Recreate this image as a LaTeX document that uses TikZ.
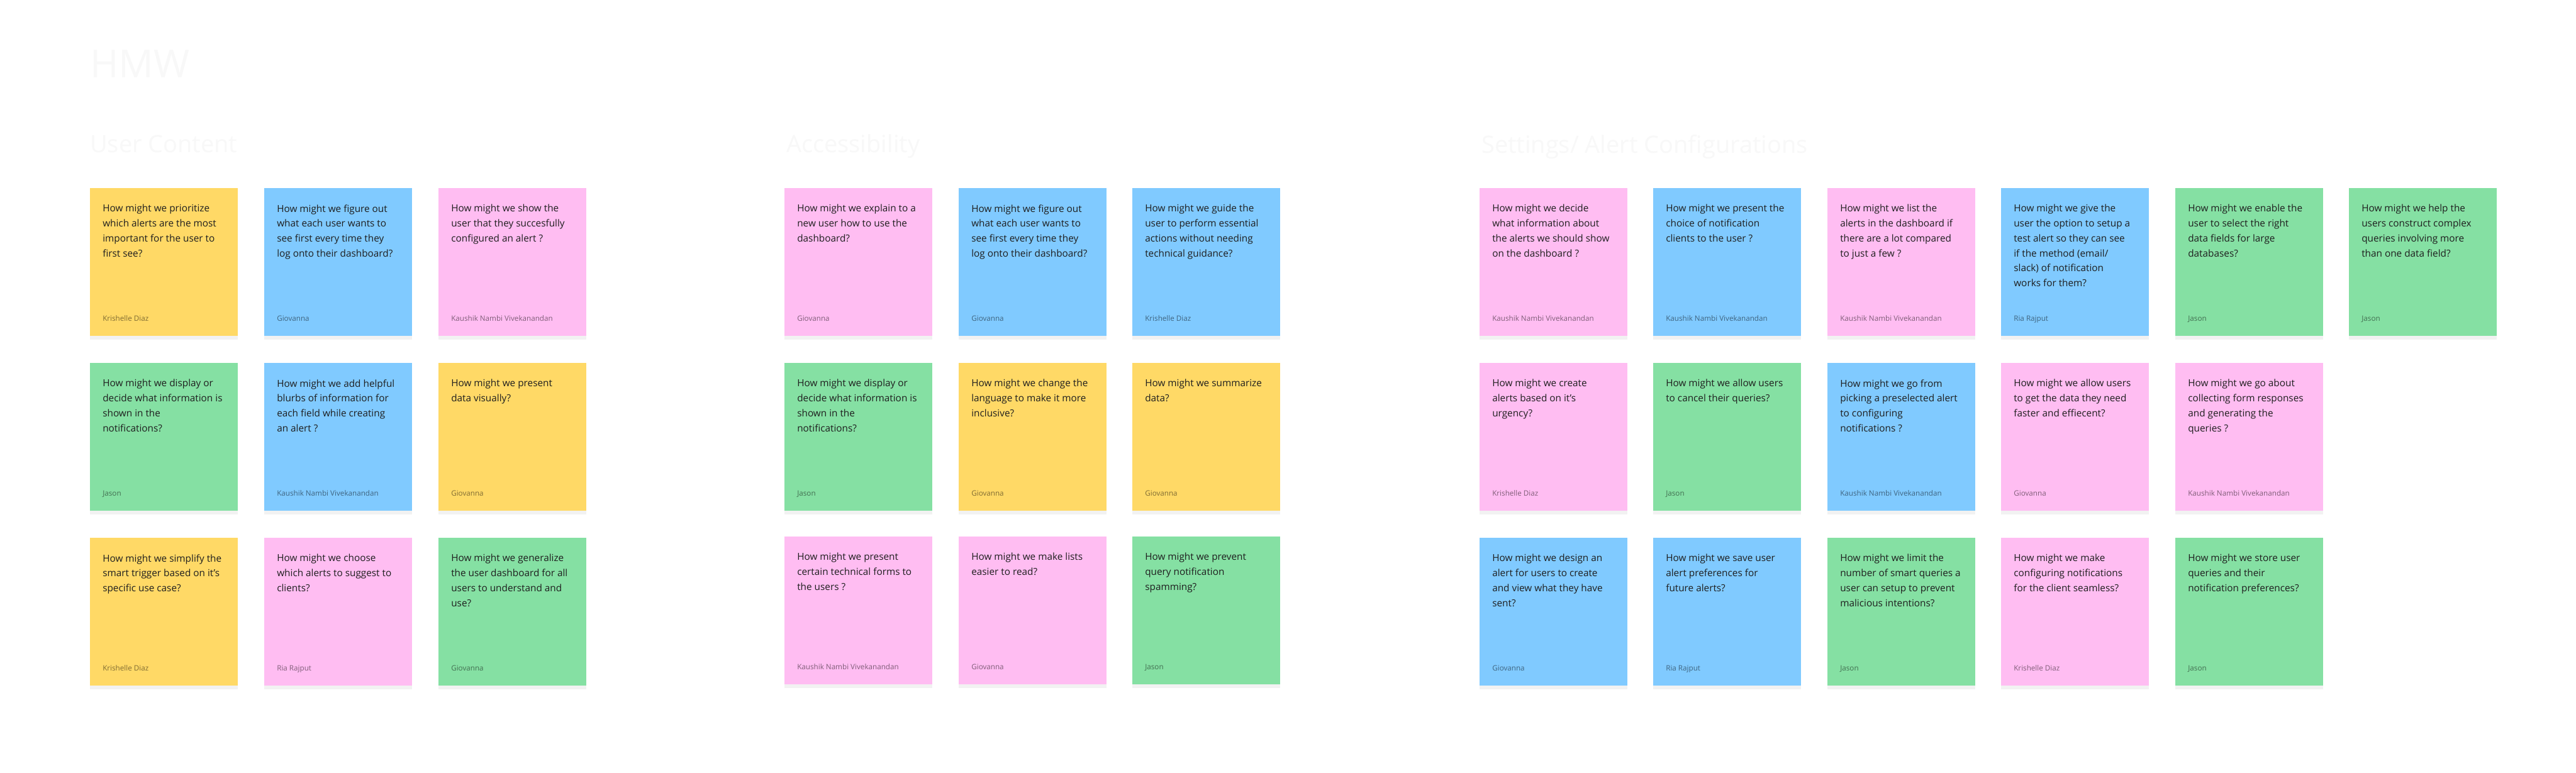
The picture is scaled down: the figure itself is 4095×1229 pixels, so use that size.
\documentclass[tikz,border=0pt]{standalone}
\usepackage{fontspec}
\setmainfont{Open Sans}
\usepackage{tikz}
\usetikzlibrary{calc,shadows}
\definecolor{ink}{HTML}{1E1E1E}
\definecolor{faint}{HTML}{F8F8F8}
\definecolor{stickyyellow}{HTML}{FFD966}
\definecolor{stickyblue}{HTML}{80CAFF}
\definecolor{stickypink}{HTML}{FFBDF2}
\definecolor{stickygreen}{HTML}{85E0A3}
\tikzset{
  card/.style={anchor=north west,minimum width=5.875cm,minimum height=5.875cm,
               inner sep=0pt,
               drop shadow={shadow xshift=0pt,shadow yshift=-4pt,opacity=0.10}},
  qtext/.style={anchor=north west,align=left,inner sep=0pt,text=ink,
                font=\fontsize{10.9}{16.85}\selectfont},
  who/.style={anchor=base west,inner sep=0pt,text=black,text opacity=0.5,
              font=\fontsize{8.3}{10}\selectfont},
  boardtitle/.style={anchor=base west,inner sep=0pt,text=faint,
                     font=\fontsize{43.8}{50}\selectfont},
  heading/.style={anchor=base west,inner sep=0pt,text=faint,
                  font=\fontsize{27}{32}\selectfont}
}
\newcommand{\sticky}[6]{%
  \node[card,fill=#4] (#1) at (#2,#3) {};
  \node[qtext] (#1q) at ($(#1.north west)+(20,26)$) {#5};
  \node[who] (#1a) at ($(#1.south west)+(20,-24)$) {#6};
}

\begin{document}
\begin{tikzpicture}[x=0.025cm,y=-0.025cm]
    \fill[white] (0,0) rectangle (4095,1229);
    \path[use as bounding box] (0,0) rectangle (4095,1229);

    \node[boardtitle] (hmw) at (143,123) {HMW};
    \node[heading] (content) at (143,242) {User Content};
    \node[heading] (access) at (1250,242) {Accessibility};
    \node[heading] (settings) at (2355,243) {Settings/ Alert Configurations};

    \sticky{uc11}{143}{299}{stickyyellow}
      {How might we prioritize\\which alerts are the most\\important for the user to\\first see?}{Krishelle Diaz}
    \sticky{uc12}{420}{299}{stickyblue}
      {How might we figure out\\what each user wants to\\see first every time they\\log onto their dashboard?}{Giovanna}
    \sticky{uc13}{697}{299}{stickypink}
      {How might we show the\\user that they succesfully\\configured an alert ?}{Kaushik Nambi Vivekanandan}
    \sticky{uc21}{143}{577}{stickygreen}
      {How might we display or\\decide what information is\\shown in the\\notifications?}{Jason}
    \sticky{uc22}{420}{577}{stickyblue}
      {How might we add helpful\\blurbs of information for\\each field while creating\\an alert ?}{Kaushik Nambi Vivekanandan}
    \sticky{uc23}{697}{577}{stickyyellow}
      {How might we present\\data visually?}{Giovanna}
    \sticky{uc31}{143}{855}{stickyyellow}
      {How might we simplify the\\smart trigger based on it’s\\specific use case?}{Krishelle Diaz}
    \sticky{uc32}{420}{855}{stickypink}
      {How might we choose\\which alerts to suggest to\\clients?}{Ria Rajput}
    \sticky{uc33}{697}{855}{stickygreen}
      {How might we generalize\\the user dashboard for all\\users to understand and\\use?}{Giovanna}

    \sticky{ac11}{1247}{299}{stickypink}
      {How might we explain to a\\new user how to use the\\dashboard?}{Giovanna}
    \sticky{ac12}{1524}{299}{stickyblue}
      {How might we figure out\\what each user wants to\\see first every time they\\log onto their dashboard?}{Giovanna}
    \sticky{ac13}{1800}{299}{stickyblue}
      {How might we guide the\\user to perform essential\\actions without needing\\technical guidance?}{Krishelle Diaz}
    \sticky{ac21}{1247}{577}{stickygreen}
      {How might we display or\\decide what information is\\shown in the\\notifications?}{Jason}
    \sticky{ac22}{1524}{577}{stickyyellow}
      {How might we change the\\language to make it more\\inclusive?}{Giovanna}
    \sticky{ac23}{1800}{577}{stickyyellow}
      {How might we summarize\\data?}{Giovanna}
    \sticky{ac31}{1247}{853}{stickypink}
      {How might we present\\certain technical forms to\\the users ?}{Kaushik Nambi Vivekanandan}
    \sticky{ac32}{1524}{853}{stickypink}
      {How might we make lists\\easier to read?}{Giovanna}
    \sticky{ac33}{1800}{853}{stickygreen}
      {How might we prevent\\query notification\\spamming?}{Jason}

    \sticky{st11}{2352}{299}{stickypink}
      {How might we decide\\what information about\\the alerts we should show\\on the dashboard ?}{Kaushik Nambi Vivekanandan}
    \sticky{st12}{2628}{299}{stickyblue}
      {How might we present the\\choice of notification\\clients to the user ?}{Kaushik Nambi Vivekanandan}
    \sticky{st13}{2905}{299}{stickypink}
      {How might we list the\\alerts in the dashboard if\\there are a lot compared\\to just a few ?}{Kaushik Nambi Vivekanandan}
    \sticky{st14}{3181}{299}{stickyblue}
      {How might we give the\\user the option to setup a\\test alert so they can see\\if the method (email/\\slack) of notification\\works for them?}{Ria Rajput}
    \sticky{st15}{3458}{299}{stickygreen}
      {How might we enable the\\user to select the right\\data fields for large\\databases?}{Jason}
    \sticky{st16}{3734}{299}{stickygreen}
      {How might we help the\\users construct complex\\queries involving more\\than one data field?}{Jason}
    \sticky{st21}{2352}{577}{stickypink}
      {How might we create\\alerts based on it’s\\urgency?}{Krishelle Diaz}
    \sticky{st22}{2628}{577}{stickygreen}
      {How might we allow users\\to cancel their queries?}{Jason}
    \sticky{st23}{2905}{577}{stickyblue}
      {How might we go from\\picking a preselected alert\\to configuring\\notifications ?}{Kaushik Nambi Vivekanandan}
    \sticky{st24}{3181}{577}{stickypink}
      {How might we allow users\\to get the data they need\\faster and effiecent?}{Giovanna}
    \sticky{st25}{3458}{577}{stickypink}
      {How might we go about\\collecting form responses\\and generating the\\queries ?}{Kaushik Nambi Vivekanandan}
    \sticky{st31}{2352}{855}{stickyblue}
      {How might we design an\\alert for users to create\\and view what they have\\sent?}{Giovanna}
    \sticky{st32}{2628}{855}{stickyblue}
      {How might we save user\\alert preferences for\\future alerts?}{Ria Rajput}
    \sticky{st33}{2905}{855}{stickygreen}
      {How might we limit the\\number of smart queries a\\user can setup to prevent\\malicious intentions?}{Jason}
    \sticky{st34}{3181}{855}{stickypink}
      {How might we make\\configuring notifications\\for the client seamless?}{Krishelle Diaz}
    \sticky{st35}{3458}{855}{stickygreen}
      {How might we store user\\queries and their\\notification preferences?}{Jason}
\end{tikzpicture}
\end{document}
